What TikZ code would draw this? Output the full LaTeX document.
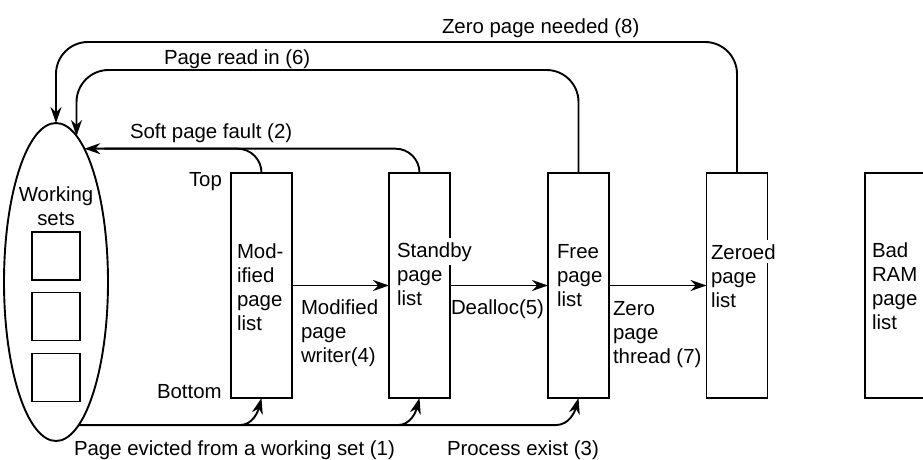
\documentclass[tikz,border=0pt]{standalone}
\usepackage{fontspec}
\setmainfont{Liberation Sans}
\usetikzlibrary{shapes.geometric,arrows.meta,calc}

\newcommand{\overhang}[1]{\smash{\hspace{-4pt}\fboxsep=4pt\colorbox{white}{#1}}}

\begin{document}
\begin{tikzpicture}[x=1pt,y=-1pt,
    font=\fontsize{20.4}{24}\selectfont,
    every node/.style={inner sep=0pt,outer sep=0pt},
    list/.style={draw,line width=1.9pt,minimum width=61pt,minimum height=225pt},
    slot/.style={draw,line width=1.9pt,minimum size=48pt},
    txt/.style={anchor=base west,align=left},
    conn/.style={line width=1.9pt},
    arr/.style={line width=1.9pt,-{Stealth[length=16pt,width=11pt]}}]
      \useasboundingbox (0,0) rectangle (923,459);

      % base of a multi-line node is its last line
      \node[draw,ellipse,line width=1.9pt,minimum width=104pt,minimum height=318pt] (ws) at (56,282) {};
      \node[anchor=base,align=center] (wstext) at (56,225) {Working\\sets};
      \node[slot] (s1) at (56,256) {};
      \node[slot] (s2) at (56,316.5) {};
      \node[slot] (s3) at (56,377.5) {};

      \node[list] (mod) at (261.5,285.5) {};
      \node[list] (sb) at (419.5,285.5) {};
      \node[list] (free) at (578.5,285.5) {};
      \node[list] (zer) at (737,285.5) {};
      \node[list] (bad) at (895.5,285.5) {};

      \node[txt] (modt) at (237,330) {Mod-\\ified\\page\\list};
      \node[txt] (sbt) at (397,305) {\overhang{Standby}\\page\\list};
      \node[txt] (freet) at (557,306) {Free\\page\\list};
      \node[txt] (zert) at (711,307) {\overhang{Zeroed}\\page\\list};
      \node[txt] (badt) at (872,329) {Bad\\RAM\\page\\list};

      \node[txt] (top) at (189,186) {Top};
      \node[txt] (bot) at (157,398) {Bottom};

      \draw[arr] (mod) -- (sb);
      \draw[arr] (sb) -- (free);
      \draw[arr] (free) -- (zer);
      \node[txt] (mpw) at (301,362) {Modified\\page\\writer(4)};
      \node[txt] (deal) at (451,314) {Dealloc(5)};
      \node[txt] (zpt) at (613,363) {Zero\\page\\thread (7)};

      \coordinate (y8) at (0,42);
      \coordinate (y6) at (0,70);
      \draw[arr,rounded corners=32] (zer.north) |- (ws.north |- y8) -- (ws.north);
      \node[txt] (zpn) at (442,33) {Zero page needed (8)};
      \draw[arr,rounded corners=32] (free.north) |- (ws.82 |- y6) -- (ws.82);
      \node[txt] (pri) at (164,64) {Page read in (6)};

      \draw[arr,rounded corners=24] (sb.north) |- (ws.78);
      \draw[conn,rounded corners=24,shorten >=20pt] (mod.north) |- (ws.78);
      \node[txt] (spf) at (130,138) {Soft page fault (2)};

      \coordinate (bl) at (ws.-81);
      \draw[arr] (bl) -- ($(free.south |- bl)+(-23,0)$) to[out=0,in=-105] (free.south);
      \draw[arr] ($(mod.south |- bl)+(-22,0)$) to[out=0,in=-105] (mod.south);
      \draw[arr] ($(sb.south |- bl)+(-22,0)$) to[out=0,in=-105] (sb.south);
      \node[txt] (pev) at (74,455) {Page evicted from a working set (1)};
      \node[txt] (pex) at (447,455) {Process exist (3)};
    \end{tikzpicture}
\end{document}
